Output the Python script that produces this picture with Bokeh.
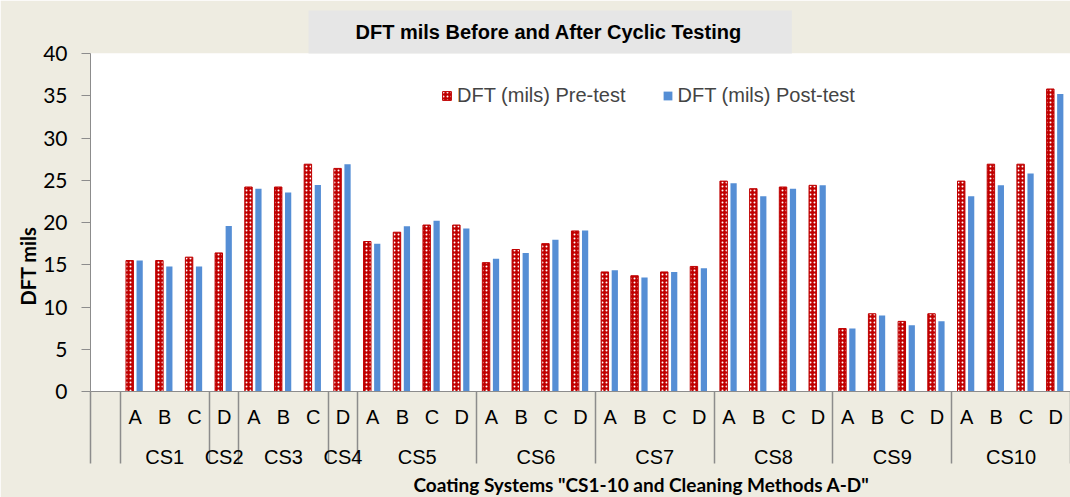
from bokeh.plotting import figure
from bokeh.models import (Range1d, LinearAxis, FixedTicker, Title, Legend,
                          LegendItem, ColumnDataSource)
from bokeh.transform import dodge
from bokeh.embed import file_html
from bokeh.resources import INLINE

# ---- data -------------------------------------------------------------
group_labels = ["CS1", "CS2", "CS3", "CS4", "CS5", "CS6", "CS7", "CS8", "CS9", "CS10"]
group_sizes = [3, 1, 3, 1, 4, 4, 4, 4, 4, 4]
methods = ["A", "B", "C", "D", "A", "B", "C", "D",
           "A", "B", "C", "D", "A", "B", "C", "D",
           "A", "B", "C", "D", "A", "B", "C", "D",
           "A", "B", "C", "D", "A", "B", "C", "D"]
pre_test = [15.5, 15.5, 15.9, 16.4, 24.2, 24.2, 26.9, 26.4,
            17.75, 18.85, 19.7, 19.7, 15.25, 16.8, 17.5, 19.0,
            14.15, 13.7, 14.15, 14.8, 24.9, 24.0, 24.2, 24.4,
            7.45, 9.2, 8.3, 9.2, 24.9, 26.9, 26.9, 35.8]
post_test = [15.5, 14.8, 14.8, 19.6, 24.0, 23.55, 24.45, 26.9,
             17.5, 19.55, 20.2, 19.3, 15.7, 16.4, 17.95, 19.05,
             14.35, 13.5, 14.15, 14.6, 24.65, 23.1, 24.0, 24.4,
             7.45, 9.0, 7.85, 8.3, 23.1, 24.4, 25.8, 35.2]
y_ticks = [0, 5, 10, 15, 20, 25, 30, 35, 40]

# ---- positions (one blank leading category, each category = 2 units) ---
n_cat = len(methods) + 1
centers = [2 * (k + 1) + 1 for k in range(len(methods))]
boundaries = [0, 2]
start = 1
group_centers = []
for s in group_sizes:
    group_centers.append(2 * start + s)
    start += s
    boundaries.append(2 * start)

src = ColumnDataSource(dict(x=centers, pre=pre_test, post=post_test, m=methods))

BEIGE = "#EEECE1"
GRAY = "#8C8C8C"
RED = "#C00000"
BLUE = "#558ED5"

p = figure(width=1070, height=497, output_backend="svg", toolbar_location=None,
           x_range=Range1d(0, 2 * n_cat), y_range=Range1d(0, 40),
           min_border_left=90, min_border_right=0, min_border_top=53,
           min_border_bottom=106, frame_width=980, frame_height=338)
p.background_fill_color = "white"
p.border_fill_color = BEIGE
p.outline_line_color = None
p.grid.visible = False

# chart title in a grey box
p.title.text = "DFT mils Before and After Cyclic Testing"
p.title.align = "left"
p.title.offset = 218
p.title.standoff = 0
p.title.text_font = "Liberation Sans"
p.title.text_font_style = "bold"
p.title.text_font_size = "20px"
p.title.text_color = "black"
p.title.background_fill_color = "#E6E6E6"
p.title.padding = dict(left=47, right=50, top=10, bottom=11)

r_pre = p.vbar(x=dodge("x", -0.36, range=p.x_range), top="pre", width=0.5, source=src,
               fill_color=RED, line_color=RED, line_width=1,
               hatch_pattern="dot", hatch_color="white", hatch_scale=4, hatch_weight=1)
r_post = p.vbar(x=dodge("x", 0.31, range=p.x_range), top="post", width=0.42, source=src,
                fill_color=BLUE, line_color=None)

# y axis
ya = p.yaxis[0]
ya.ticker = FixedTicker(ticks=y_ticks)
ya.axis_line_color = GRAY
ya.major_tick_line_color = GRAY
ya.major_tick_out = 9
ya.major_tick_in = 0
ya.minor_tick_line_color = None
ya.major_label_text_font = "Lato"
ya.major_label_text_font_size = "21px"
ya.major_label_text_color = "black"
ya.major_label_standoff = 14

# x axis level 1 (methods) with group separators drawn as long minor ticks
xa = p.xaxis[0]
xa.ticker = FixedTicker(ticks=centers, minor_ticks=boundaries)
xa.major_label_overrides = {c: m for c, m in zip(centers, methods)}
xa.axis_line_color = GRAY
xa.major_tick_line_color = None
xa.major_tick_out = 0
xa.major_tick_in = 0
xa.minor_tick_line_color = GRAY
xa.minor_tick_line_width = 1.5
xa.minor_tick_out = 72
xa.minor_tick_in = 0
xa.major_label_text_font = "Liberation Sans"
xa.major_label_text_font_size = "20px"
xa.major_label_text_color = "black"
xa.major_label_standoff = -58

# x axis level 2 (coating systems)
xa2 = LinearAxis(ticker=FixedTicker(ticks=group_centers),
                 major_label_overrides={c: g for c, g in zip(group_centers, group_labels)})
xa2.axis_line_color = None
xa2.major_tick_line_color = None
xa2.minor_tick_line_color = None
xa2.major_tick_out = 0
xa2.major_tick_in = 0
xa2.major_label_text_font = "Liberation Sans"
xa2.major_label_text_font_size = "20px"
xa2.major_label_text_color = "black"
xa2.major_label_standoff = 15
p.add_layout(xa2, "below")

# axis titles
p.add_layout(Title(text='Coating Systems "CS1-10 and Cleaning Methods A-D"',
                   align="left", offset=323, standoff=0, text_font="Lato",
                   text_font_style="bold", text_font_size="19px", text_color="black"),
             "below")
p.add_layout(Title(text="DFT mils", align="left", offset=86, standoff=2,
                   text_font="Lato", text_font_style="bold", text_font_size="20px",
                   text_color="black"), "left")

legend = Legend(items=[LegendItem(label="DFT (mils) Pre-test", renderers=[r_pre]),
                       LegendItem(label="DFT (mils) Post-test", renderers=[r_post])],
                orientation="horizontal", location=(351, 284), padding=0, margin=0,
                spacing=36, glyph_width=11, glyph_height=11, label_standoff=5,
                label_height=20, label_text_font="Liberation Sans",
                label_text_font_size="20px", background_fill_alpha=0,
                border_line_color=None)
p.add_layout(legend)

open("out.html", "w").write(file_html(p, INLINE))
